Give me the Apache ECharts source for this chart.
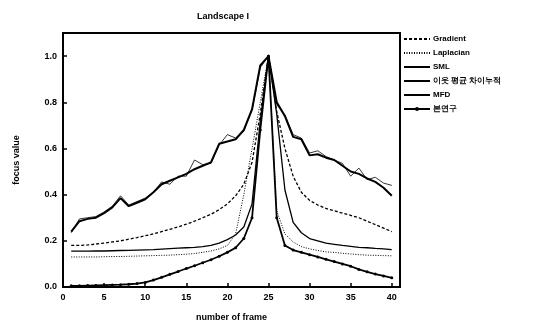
<!DOCTYPE html>
<html>
<head>
<meta charset="utf-8">
<title>Landscape I</title>
<script src="https://cdn.jsdelivr.net/npm/echarts@6/dist/echarts.min.js"></script>
<style>
  html, body { margin: 0; padding: 0; background: #fff; }
  #main { width: 534px; height: 327px; }
</style>
</head>
<body>
<div id="main"></div>
<script>
// frame numbers and focus values
var frames = [1,2,3,4,5,6,7,8,9,10,11,12,13,14,15,16,17,18,19,20,
              21,22,23,24,25,26,27,28,29,30,31,32,33,34,35,36,37,38,39,40];

var gradient = [0.18,0.18,0.182,0.186,0.19,0.195,0.2,0.207,0.214,0.222,
                0.23,0.24,0.25,0.26,0.272,0.285,0.3,0.315,0.335,0.36,
                0.395,0.445,0.54,0.75,1.0,0.76,0.6,0.48,0.41,0.375,
                0.355,0.34,0.33,0.32,0.31,0.3,0.285,0.27,0.255,0.24];

var laplacian = [0.13,0.13,0.13,0.13,0.131,0.132,0.132,0.133,0.134,0.135,
                 0.136,0.137,0.138,0.14,0.142,0.145,0.15,0.156,0.165,0.18,
                 0.23,0.4,0.6,0.8,1.0,0.33,0.23,0.195,0.175,0.165,
                 0.158,0.152,0.15,0.146,0.143,0.14,0.138,0.137,0.136,0.135];

var sml = [0.155,0.155,0.155,0.156,0.156,0.157,0.158,0.159,0.16,0.161,
           0.162,0.164,0.166,0.168,0.17,0.172,0.175,0.18,0.19,0.205,
           0.225,0.26,0.36,0.72,1.0,0.75,0.42,0.28,0.235,0.21,
           0.2,0.19,0.185,0.18,0.176,0.172,0.17,0.167,0.165,0.162];

var neighbour = [0.235,0.295,0.3,0.305,0.325,0.35,0.395,0.355,0.37,0.385,
                 0.41,0.455,0.445,0.48,0.48,0.55,0.53,0.535,0.615,0.66,
                 0.645,0.675,0.765,0.95,1.0,0.79,0.745,0.66,0.645,0.58,
                 0.59,0.565,0.55,0.535,0.48,0.515,0.465,0.475,0.45,0.44];

var mfd = [0.24,0.285,0.295,0.3,0.32,0.345,0.385,0.35,0.365,0.38,
           0.41,0.445,0.46,0.475,0.49,0.51,0.525,0.54,0.62,0.63,
           0.64,0.68,0.77,0.96,1.0,0.8,0.74,0.65,0.64,0.57,
           0.575,0.56,0.55,0.525,0.5,0.49,0.47,0.455,0.43,0.395];

var thisWork = [0.005,0.005,0.006,0.007,0.008,0.009,0.01,0.012,0.015,0.02,
                0.03,0.042,0.055,0.067,0.08,0.092,0.105,0.118,0.133,0.15,
                0.17,0.21,0.3,0.68,1.0,0.3,0.18,0.16,0.15,0.14,
                0.13,0.12,0.11,0.1,0.09,0.076,0.066,0.056,0.048,0.04];

var names = ['Gradient', 'Laplacian', 'SML', '이웃 평균 차이누적', 'MFD', '본연구'];

function pairs(vals) {
    return frames.map(function (f, i) { return [f, vals[i]]; });
}

var font = 'Liberation Sans, Arial, sans-serif';
var myChart = echarts.init(document.getElementById('main'));

function lineSeries(name, vals, lineStyle, extra) {
    var s = {
        name: name,
        type: 'line',
        data: pairs(vals),
        symbol: 'none',
        showSymbol: false,
        animation: false,
        lineStyle: Object.assign({ color: '#000' }, lineStyle),
        itemStyle: { color: '#000' },
        z: 3
    };
    return Object.assign(s, extra || {});
}

// legend: hide the marker for plain line series, keep it for 본연구
var legendData = names.map(function (n, i) {
    return { name: n, itemStyle: { opacity: i === 5 ? 1 : 0 } };
});

var option = {
    backgroundColor: '#fff',
    animation: false,
    title: {
        text: 'Landscape I',
        left: 192,
        top: 7,
        textStyle: { fontFamily: font, fontSize: 9, fontWeight: 'bold', color: '#000' }
    },
    legend: {
        orient: 'vertical',
        left: 403,
        top: 35,
        padding: 0,
        itemWidth: 26,
        itemHeight: 5,
        itemGap: 6,
        data: legendData,
        textStyle: { fontFamily: font, fontSize: 8, fontWeight: 'bold', color: '#000', padding: [0, 0, 0, -2] }
    },
    grid: {
        left: 63,
        right: 134,
        top: 33,
        bottom: 39,
        show: true,
        borderColor: '#000',
        borderWidth: 2
    },
    xAxis: {
        type: 'value',
        min: 0,
        max: 41,
        interval: 5,
        name: 'number of frame',
        nameLocation: 'middle',
        nameGap: 26,
        nameTextStyle: { fontFamily: font, fontSize: 9, fontWeight: 'bold', color: '#000' },
        axisLine: { lineStyle: { color: '#000', width: 2 } },
        axisTick: { inside: true, length: 4, lineStyle: { color: '#000', width: 1.5 } },
        axisLabel: { showMaxLabel: false, margin: 6, fontFamily: font, fontSize: 9, fontWeight: 'bold', color: '#000' },
        splitLine: { show: false }
    },
    yAxis: {
        type: 'value',
        min: 0,
        max: 1.1,
        interval: 0.2,
        name: 'focus value',
        nameLocation: 'middle',
        nameGap: 42,
        nameTextStyle: { fontFamily: font, fontSize: 9, fontWeight: 'bold', color: '#000' },
        axisLine: { lineStyle: { color: '#000', width: 2 } },
        axisTick: { inside: true, length: 4, lineStyle: { color: '#000', width: 1.5 } },
        axisLabel: {
            showMaxLabel: false,
            margin: 6,
            fontFamily: font, fontSize: 9, fontWeight: 'bold', color: '#000',
            formatter: function (v) { return v.toFixed(1); }
        },
        splitLine: { show: false }
    },
    series: [
        lineSeries(names[0], gradient, { width: 1.3, type: [3, 2] }),
        lineSeries(names[1], laplacian, { width: 1, type: [1, 1.5] }),
        lineSeries(names[2], sml, { width: 1.3 }),
        lineSeries(names[3], neighbour, { width: 0.8 }),
        lineSeries(names[4], mfd, { width: 2 }),
        lineSeries(names[5], thisWork, { width: 1.8 }, { symbol: 'circle', symbolSize: 3, showSymbol: true })
    ]
};

myChart.setOption(option);
</script>
</body>
</html>
